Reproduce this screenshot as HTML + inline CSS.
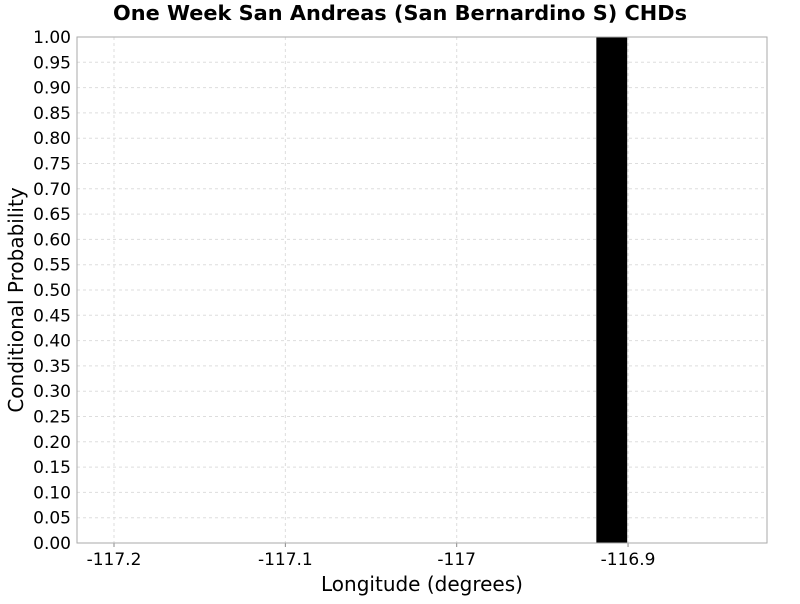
<!DOCTYPE html>
<html><head><meta charset="utf-8"><style>
body{margin:0;background:#fff;font-family:"DejaVu Sans","Liberation Sans",sans-serif}
</style></head><body>
<svg id="chart" width="800" height="600" xmlns="http://www.w3.org/2000/svg">
<text x="400" y="20" text-anchor="middle" font-size="20" font-weight="bold" font-family="DejaVu Sans, sans-serif" textLength="574" lengthAdjust="spacingAndGlyphs">One Week San Andreas (San Bernardino S) CHDs</text>
<g id="grid"></g><g id="bars"></g><g id="axes"></g>
<text x="422" y="591" text-anchor="middle" font-size="20" font-family="DejaVu Sans, sans-serif">Longitude (degrees)</text>
<text transform="translate(23,300) rotate(-90)" text-anchor="middle" font-size="20" font-family="DejaVu Sans, sans-serif">Conditional Probability</text>
</svg>
<script>
const binCenters=[-116.9095];
const binWidths=[0.018];
const probabilities=[1.0];
const xTicks=[-117.2,-117.1,-117,-116.9];
const xTickLabels=["-117.2","-117.1","-117","-116.9"];
const yTicks=[0,0.05,0.1,0.15,0.2,0.25,0.3,0.35,0.4,0.45,0.5,0.55,0.6,0.65,0.7,0.75,0.8,0.85,0.9,0.95,1.0];
const L=77,R=767,T=37,B=543,xMin=-117.2216,xMax=-116.8189;
const ns="http://www.w3.org/2000/svg";
const xs=v=>L+(v-xMin)/(xMax-xMin)*(R-L);
const ys=v=>B-v*(B-T);
function mk(tag,attrs,parent,txt){const e=document.createElementNS(ns,tag);for(const k in attrs)e.setAttribute(k,attrs[k]);if(txt!==undefined)e.textContent=txt;document.getElementById(parent).appendChild(e);return e;}
xTicks.forEach((t,i)=>{const x=xs(t);
 const g=mk('line',{x1:x,x2:x,y1:T,y2:B,stroke:'#ddd','stroke-dasharray':'3,3'},'grid');
 
 
 const tk=mk('line',{x1:x,x2:x,y1:B,y2:B+4,stroke:'#888'},'axes');
 
 
 const l=mk('text',{x:x,y:B+22,'text-anchor':'middle','font-size':17},'axes',xTickLabels[i]);
 
 
});
yTicks.forEach(t=>{const y=ys(t);
 const g=mk('line',{x1:L,x2:R,y1:y,y2:y,stroke:'#ddd','stroke-dasharray':'3,3'},'grid');
 
 
 const l=mk('text',{x:L-6,y:y+6,'text-anchor':'end','font-size':17},'axes',t.toFixed(2));
 
 
});
binCenters.forEach((c,i)=>{const x0=xs(c-binWidths[i]/2),x1=xs(c+binWidths[i]/2);
 const r=mk('rect',{x:x0,y:ys(probabilities[i]),width:x1-x0,height:B-ys(probabilities[i]),fill:'#000'},'bars');
 
 
});
const f=mk('rect',{x:L,y:T,width:R-L,height:B-T,fill:'none',stroke:'#aaa'},'axes');


</script>
</body></html>
